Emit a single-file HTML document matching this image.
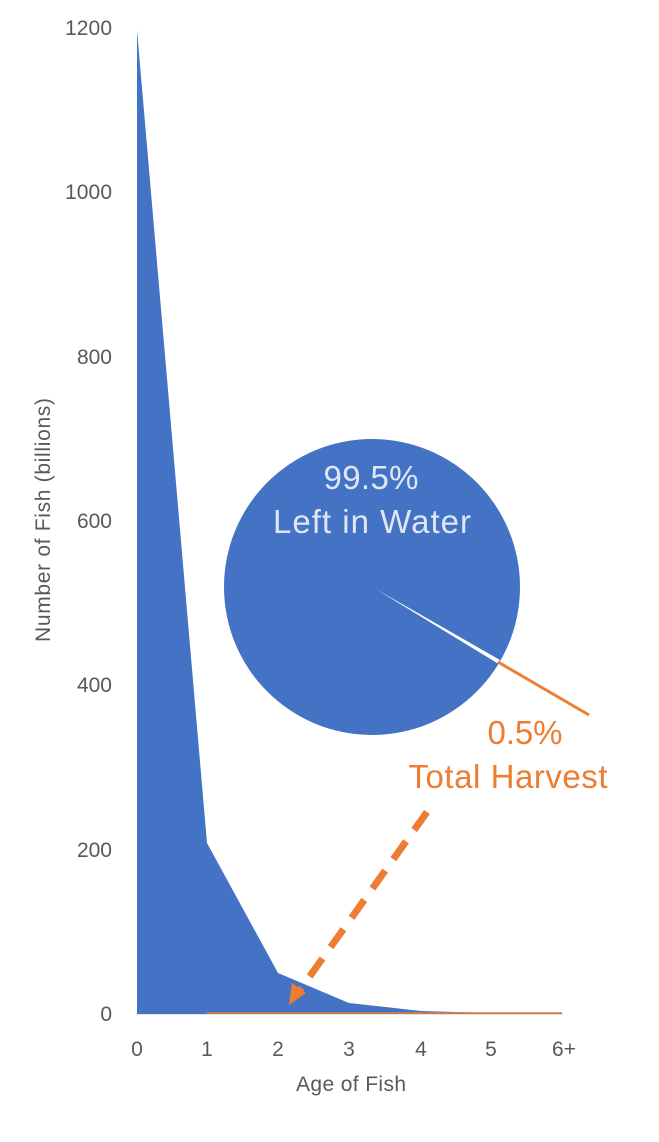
<!DOCTYPE html>
<html><head><meta charset="utf-8"><style>
body{margin:0;background:#fff;}
svg{display:block;font-family:"Liberation Sans",sans-serif;}
</style></head><body>
<svg width="659" height="1142" viewBox="0 0 659 1142">
<line x1="136" y1="1014" x2="563" y2="1014" stroke="#d9d9d9" stroke-width="1.5"/>
<polygon points="137,30 207,843 278,973 349,1003 421,1011 491,1013 562,1013 562,1014 137,1014" fill="#4472c4"/>
<line x1="207" y1="1013" x2="562" y2="1013" stroke="#ed7d31" stroke-width="1.5"/>
<g fill="#595959" font-size="21" text-anchor="end">
<text x="112" y="35" textLength="47">1200</text><text x="112" y="199" textLength="47">1000</text><text x="112" y="364">800</text>
<text x="112" y="528">600</text><text x="112" y="692">400</text><text x="112" y="857">200</text><text x="112" y="1021">0</text>
</g>
<g fill="#595959" font-size="21" text-anchor="middle">
<text x="137" y="1056">0</text><text x="207" y="1056">1</text><text x="278" y="1056">2</text><text x="349" y="1056">3</text>
<text x="421" y="1056">4</text><text x="491" y="1056">5</text><text x="564" y="1056">6+</text>
<text x="351" y="1091" textLength="110">Age of Fish</text>
<text transform="translate(50,520) rotate(-90)" textLength="244">Number of Fish (billions)</text>
</g>
<circle cx="372" cy="587" r="148" fill="#4472c4"/>
<polygon points="374,588 500,660 497,663" fill="#fff"/>
<line x1="498" y1="662" x2="589" y2="715" stroke="#ed7d31" stroke-width="3"/>
<text x="371" y="489" fill="#dfe7f5" font-size="33" text-anchor="middle" textLength="95">99.5%</text>
<text x="372" y="533" fill="#dfe7f5" font-size="33" text-anchor="middle" textLength="198">Left in Water</text>
<text x="525" y="744" fill="#ed7d31" font-size="33" text-anchor="middle" textLength="75">0.5%</text>
<text x="508" y="788" fill="#ed7d31" font-size="33" text-anchor="middle" textLength="199">Total Harvest</text>
<line x1="427" y1="812" x2="300" y2="990" stroke="#ed7d31" stroke-width="7" stroke-dasharray="22,14"/>
<polygon points="289,1005 292,983 306,993" fill="#ed7d31"/>
</svg>
</body></html>
